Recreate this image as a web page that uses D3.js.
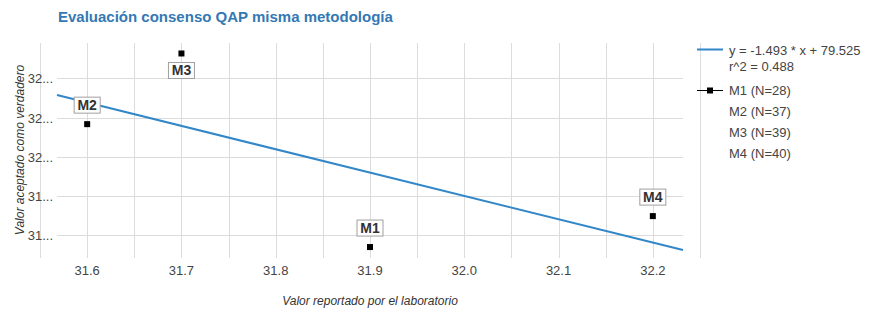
<!DOCTYPE html>
<html>
<head>
<meta charset="utf-8">
<script src="https://cdn.jsdelivr.net/npm/d3@7"></script>
<style>
  body { margin: 0; background: #fff; }
  svg { font-family: Arial, "Liberation Sans", sans-serif; }
</style>
</head>
<body>
<div id="chart"></div>
<script>
// data
const methods = ['M1', 'M2', 'M3', 'M4'];
const counts = [28, 37, 39, 40];
const reported = [31.9, 31.6, 31.7, 32.2];
const accepted = [31.422, 32.208, 32.66, 31.62];
const trendSlope = -1.493;
const trendIntercept = 79.525;
const r2 = 0.488;
const xTicks = [31.6, 31.7, 31.8, 31.9, 32.0, 32.1, 32.2];
const xGrid = d3.range(31.55, 32.26, 0.05);
const yTicks = [31.5, 31.75, 32.0, 32.25, 32.5];
const yTickLabels = ['31...', '31...', '32...', '32...', '32...'];

const width = 879, height = 312;
const area = { left: 57, right: 683, top: 43, bottom: 258 };

const svg = d3.select('#chart').append('svg')
  .attr('width', width)
  .attr('height', height);

const x = d3.scaleLinear().domain([31.568, 32.232]).range([area.left, area.right]);
const y = d3.scaleLinear().domain([31.352, 32.727]).range([area.bottom, area.top]);

// title
svg.append('text')
  .attr('x', 58).attr('y', 22)
  .attr('fill', '#3478b4')
  .attr('font-size', 15).attr('font-weight', 'bold')
  .text('Evaluación consenso QAP misma metodología');

// vertical gridlines (they run a bit past the plot area)
svg.append('g').selectAll('line')
  .data(xGrid)
  .join('line')
  .attr('x1', d => Math.round(x(d)) + 0.5).attr('x2', d => Math.round(x(d)) + 0.5)
  .attr('y1', area.top).attr('y2', area.bottom)
  .attr('stroke', '#dcdcdc');

// horizontal gridlines
svg.append('g').selectAll('line')
  .data(yTicks)
  .join('line')
  .attr('x1', area.left).attr('x2', area.right)
  .attr('y1', d => Math.round(y(d)) + 0.5).attr('y2', d => Math.round(y(d)) + 0.5)
  .attr('stroke', '#dcdcdc');

// x tick labels
svg.append('g').selectAll('text')
  .data(xTicks)
  .join('text')
  .attr('x', d => x(d)).attr('y', 275)
  .attr('text-anchor', 'middle')
  .attr('font-size', 13).attr('fill', '#444')
  .text(d => d3.format('.1f')(d));

// y tick labels
svg.append('g').selectAll('text')
  .data(yTicks)
  .join('text')
  .attr('x', 53).attr('y', d => y(d) + 5)
  .attr('text-anchor', 'end')
  .attr('font-size', 13).attr('fill', '#444')
  .text((d, i) => yTickLabels[i]);

// axis titles
svg.append('text')
  .attr('x', (area.left + area.right) / 2).attr('y', 305)
  .attr('text-anchor', 'middle')
  .attr('font-size', 12).attr('font-style', 'italic').attr('fill', '#333')
  .text('Valor reportado por el laboratorio');

svg.append('text')
  .attr('transform', 'translate(24,' + 150 + ') rotate(-90)')
  .attr('text-anchor', 'middle')
  .attr('font-size', 12).attr('font-style', 'italic').attr('fill', '#333')
  .text('Valor aceptado como verdadero');

// trendline
const trendColor = '#3287c9';
const xd = x.domain();
svg.append('line')
  .attr('x1', x(xd[0])).attr('y1', y(trendSlope * xd[0] + trendIntercept))
  .attr('x2', x(xd[1])).attr('y2', y(trendSlope * xd[1] + trendIntercept))
  .attr('stroke', trendColor).attr('stroke-width', 2);

// points
const points = methods.map((m, i) => ({ name: m, x: reported[i], y: accepted[i] }));

svg.append('g').selectAll('rect')
  .data(points)
  .join('rect')
  .attr('x', d => x(d.x) - 3).attr('y', d => y(d.y) - 3)
  .attr('width', 6).attr('height', 6)
  .attr('fill', '#000');

// annotation labels
const ann = svg.append('g').selectAll('g')
  .data(points)
  .join('g')
  .attr('transform', d => {
    const py = y(d.y);
    const ly = py - 30 < area.top ? py + 17 : py - 19;
    return 'translate(' + x(d.x) + ',' + ly + ')';
  });

ann.append('rect')
  .attr('x', -13).attr('y', -8)
  .attr('width', 26).attr('height', 16)
  .attr('fill', '#fff').attr('stroke', '#a0a0a0');

ann.append('text')
  .attr('text-anchor', 'middle').attr('y', 5)
  .attr('font-size', 14).attr('font-weight', 'bold').attr('fill', '#333')
  .text(d => d.name);

// legend
const legend = svg.append('g').attr('font-size', 13).attr('fill', '#444');
const lx = 697, tx = 729;

legend.append('line')
  .attr('x1', lx).attr('x2', lx + 26).attr('y1', 49.5).attr('y2', 49.5)
  .attr('stroke', trendColor).attr('stroke-width', 2);
legend.append('text').attr('x', tx).attr('y', 55)
  .text('y = ' + trendSlope.toFixed(3) + ' * x + ' + trendIntercept.toFixed(3));
legend.append('text').attr('x', tx).attr('y', 71)
  .text('r^2 = ' + r2.toFixed(3));

legend.append('line')
  .attr('x1', lx).attr('x2', lx + 26).attr('y1', 90.5).attr('y2', 90.5)
  .attr('stroke', '#000').attr('stroke-width', 1);
legend.append('rect')
  .attr('x', lx + 10).attr('y', 87.5).attr('width', 6).attr('height', 6)
  .attr('fill', '#000');

legend.selectAll('text.series')
  .data(methods)
  .join('text')
  .attr('class', 'series')
  .attr('x', tx).attr('y', (d, i) => 95 + i * 21)
  .text((d, i) => d + ' (N=' + counts[i] + ')');
</script>
</body>
</html>
